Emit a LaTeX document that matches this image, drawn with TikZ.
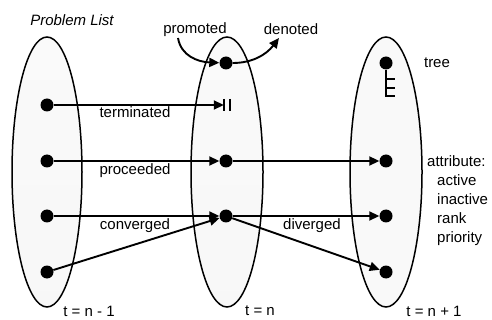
\documentclass[tikz,border=0pt]{standalone}
\usepackage{fontspec}
\setmainfont{Liberation Sans}
\usepackage{xcolor}
\usetikzlibrary{arrows.meta, positioning}

\begin{document}
\begin{tikzpicture}[x=1pt, y=-1pt,
  every node/.style={font=\fontsize{15}{19}\selectfont},
  dot/.style={circle, fill=black, inner sep=0pt, minimum size=13pt},
  arr/.style={-{Triangle[length=10pt,width=9pt]}, line width=1.9pt},
  blob/.style={line width=1.5pt, shading=axis, top color=gray!4, middle color=gray!22, bottom color=gray!6}]
  \useasboundingbox (0,0) rectangle (492,320);
  % ---------- ELLIPSES ----------
  \draw[blob] (47,172) ellipse [x radius=35pt, y radius=135pt];
  \draw[blob] (227,172) ellipse [x radius=36pt, y radius=135pt];
  \draw[line width=1.5pt, fill=gray!5] (386,172) ellipse [x radius=36pt, y radius=135pt];
  % ---------- DOTS ----------
  \foreach \n/\y in {1/105,2/161,3/216,4/272} \node[dot] (l\n) at (47,\y) {};
  \foreach \n/\y in {0/63,2/161,3/216} \node[dot] (m\n) at (226,\y) {};
  \foreach \n/\y in {0/63,2/161,3/216,4/272} \node[dot] (r\n) at (386,\y) {};
  \node[inner sep=0pt, minimum width=6pt, minimum height=12pt] (stop) at (227,105) {};
  \draw[line width=1.6pt] (stop.north west) -- (stop.south west);
  \draw[line width=1.6pt] (stop.north east) -- (stop.south east);
  % ---------- TRANSITIONS ----------
  \draw[arr] (l1) -- (stop);
  \draw[arr] (l2) -- (m2);
  \draw[arr] (m2) -- (r2);
  \draw[arr] (l3) -- (m3);
  \draw[arr] (l4) -- (m3);
  \draw[arr] (m3) -- (r3);
  \draw[arr] (m3) -- (r4);
  \node at (135,112) {terminated};
  \node at (135,171) {proceeded};
  \node at (135,226) {converged};
  \node at (312,226) {diverged};
  % ---------- PROMOTE / DENOTE ----------
  \node (prom) at (195,30) {promoted};
  \node (deno) at (291,29) {denoted};
  \coordinate (ptail) at (178,38);
  \coordinate (dtip) at (279,38);
  \draw[arr] (ptail) .. controls (181,56) and (198,62) .. (m0);
  \draw[arr] (m0) .. controls (252,63) and (266,55) .. (dtip);
  % ---------- TREE ----------
  \draw[line width=1.5pt] (r0) -- (386,97);
  \foreach \y in {79,88,96} \draw[line width=1.5pt] (386,\y) -- (395,\y);
  \node (tree) at (437,63) {tree};
  \node[anchor=west, align=left, inner sep=0pt] (attr) at (427,201)
    {attribute:\\\hspace*{10pt}active\\\hspace*{10pt}inactive\\\hspace*{10pt}rank\\\hspace*{10pt}priority};
  % ---------- TITLES ----------
  \node (title) at (72,20) {\itshape Problem List};
  \node (t1) at (89,311) {t = n - 1};
  \node (t2) at (260,311) {t = n};
  \node (t3) at (434,311) {t = n + 1};
\end{tikzpicture}
\end{document}
